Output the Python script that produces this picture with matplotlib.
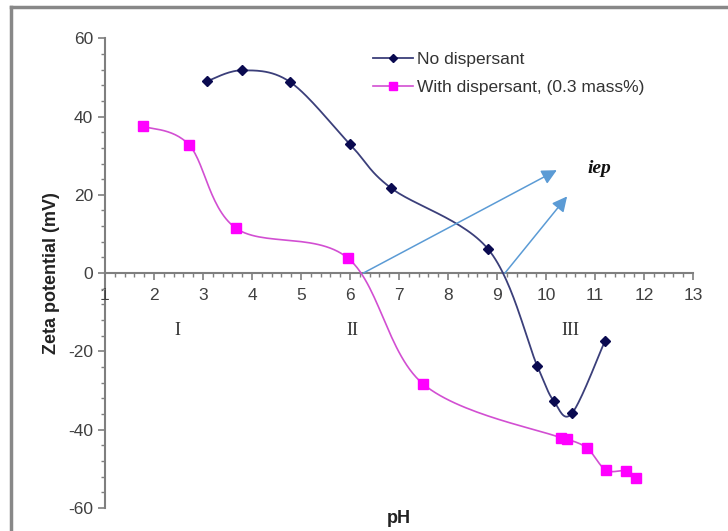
import numpy as np
import matplotlib
matplotlib.use("Agg")
import matplotlib.pyplot as plt
from matplotlib.lines import Line2D
from matplotlib.ticker import MultipleLocator

# ---- data ----
ph_no = [3.08, 3.80, 4.78, 6.00, 6.84, 8.82, 9.82, 10.16, 10.53, 11.20]
zeta_no = [49.0, 51.8, 48.8, 32.9, 21.7, 6.1, -23.7, -32.7, -35.8, -17.4]

ph_with = [1.78, 2.72, 3.67, 5.96, 7.49, 10.31, 10.43, 10.84, 11.22, 11.63, 11.84]
zeta_with = [37.5, 32.7, 11.5, 3.8, -28.3, -42.1, -42.4, -44.7, -50.3, -50.5, -52.3]

xticks = list(range(1, 14))
yticks = [-60, -40, -20, 0, 20, 40, 60]

arrow_starts = [(6.27, 0.0), (9.16, 0.0)]
arrow_ends = [(10.22, 26.3), (10.43, 19.6)]
regions = ["I", "II", "III"]
region_x = [2.47, 6.04, 10.5]
region_y = -14.6


def smooth(x, y, n=30):
    """Excel-like parametric Catmull-Rom smoothing through the points."""
    P = np.column_stack([x, y]).astype(float)
    P = np.vstack([P[0], P, P[-1]])
    out = []
    for i in range(1, len(P) - 2):
        p0, p1, p2, p3 = P[i - 1], P[i], P[i + 1], P[i + 2]
        c1 = p1 + (p2 - p0) / 6.0
        c2 = p2 - (p3 - p1) / 6.0
        t = np.linspace(0, 1, n)[:, None]
        seg = ((1 - t) ** 3) * p1 + 3 * ((1 - t) ** 2) * t * c1 + 3 * (1 - t) * t ** 2 * c2 + t ** 3 * p2
        out.append(seg if i == 1 else seg[1:])
    s = np.vstack(out)
    return s[:, 0], s[:, 1]


plt.rcParams['font.family'] = ['Liberation Sans', 'DejaVu Sans']
plt.rcParams['axes.unicode_minus'] = False

fig = plt.figure(figsize=(7.28, 5.31), dpi=100)
ax = fig.add_axes([0.1442, 0.0433, 0.8078, 0.8847])

magenta = '#ff00ff'
grey = '#7f7f7f'

sx, sy = smooth(ph_no, zeta_no)
ax.plot(sx, sy, color='#3b3f7a', lw=1.3, zorder=3)
ax.plot(ph_no, zeta_no, ls='none', marker='D', ms=5.5, color='#0a0a50', zorder=4)

sx2, sy2 = smooth(ph_with, zeta_with)
ax.plot(sx2, sy2, color='#d24fd2', lw=1.2, zorder=3)
ax.plot(ph_with, zeta_with, ls='none', marker='s', ms=7, color=magenta, zorder=4)

for (x0, y0), (x1, y1) in zip(arrow_starts, arrow_ends):
    ax.annotate('', xy=(x1, y1), xytext=(x0, y0),
                arrowprops=dict(arrowstyle='-|>,head_length=0.9,head_width=0.45',
                                color='#5b9bd5', lw=1.1, shrinkA=0, shrinkB=0),
                zorder=5)

ax.text(10.84, 26.8, 'iep', family=['Liberation Serif', 'DejaVu Serif'], style='italic',
        fontweight='bold', fontsize=14, ha='left', va='center', color='#111111')

for lab, x in zip(regions, region_x):
    ax.text(x, region_y, lab, family=['Liberation Serif', 'DejaVu Serif'], fontsize=13,
            ha='center', va='center', color='#333333')

ax.set_xlim(1, 13)
ax.set_ylim(-60, 60)
ax.set_xticks(xticks)
ax.set_yticks(yticks)
ax.xaxis.set_minor_locator(MultipleLocator(0.2))
ax.yaxis.set_minor_locator(MultipleLocator(4))

for s in ['top', 'right']:
    ax.spines[s].set_visible(False)
ax.spines['bottom'].set_position(('data', 0))
ax.spines['bottom'].set_color(grey)
ax.spines['left'].set_color(grey)
ax.spines['bottom'].set_linewidth(1.5)
ax.spines['left'].set_linewidth(1.5)
ax.spines['left'].set_zorder(1)
ax.tick_params(axis='both', which='major', length=5, width=1.2, color=grey,
               labelsize=12.5, labelcolor='#404040')
ax.tick_params(axis='both', which='minor', length=3, width=1.0, color=grey)
ax.tick_params(axis='x', pad=6)

ax.set_ylabel('Zeta potential (mV)', fontsize=13, fontweight='bold', color='#222222', labelpad=6)
ax.set_xlabel('pH', fontsize=13, fontweight='bold', color='#222222')
ax.xaxis.set_label_coords(0.5, -0.005)

handles = [
    Line2D([], [], color='#3b3f7a', lw=1.3, marker='D', ms=4.5, markerfacecolor='#0a0a50',
           markeredgecolor='#0a0a50'),
    Line2D([], [], color='#d24fd2', lw=1.2, marker='s', ms=6, markerfacecolor=magenta,
           markeredgecolor=magenta),
]
ax.legend(handles, ['No dispersant', 'With dispersant, (0.3 mass%)'], loc='upper left',
          bbox_to_anchor=(0.43, 1.005), frameon=False, fontsize=12.5, handlelength=2.3,
          handletextpad=0.2, labelspacing=0.75, labelcolor='#333333')

# outer frame (top and left edges)
fig.add_artist(Line2D([10.5 / 728, 10.5 / 728], [0, 1 - 6.5 / 531], transform=fig.transFigure,
                      color='#888888', lw=2.5))
fig.add_artist(Line2D([10.5 / 728, 1], [1 - 6.5 / 531, 1 - 6.5 / 531], transform=fig.transFigure,
                      color='#888888', lw=2.5))

fig.savefig('out.png', dpi=100)
